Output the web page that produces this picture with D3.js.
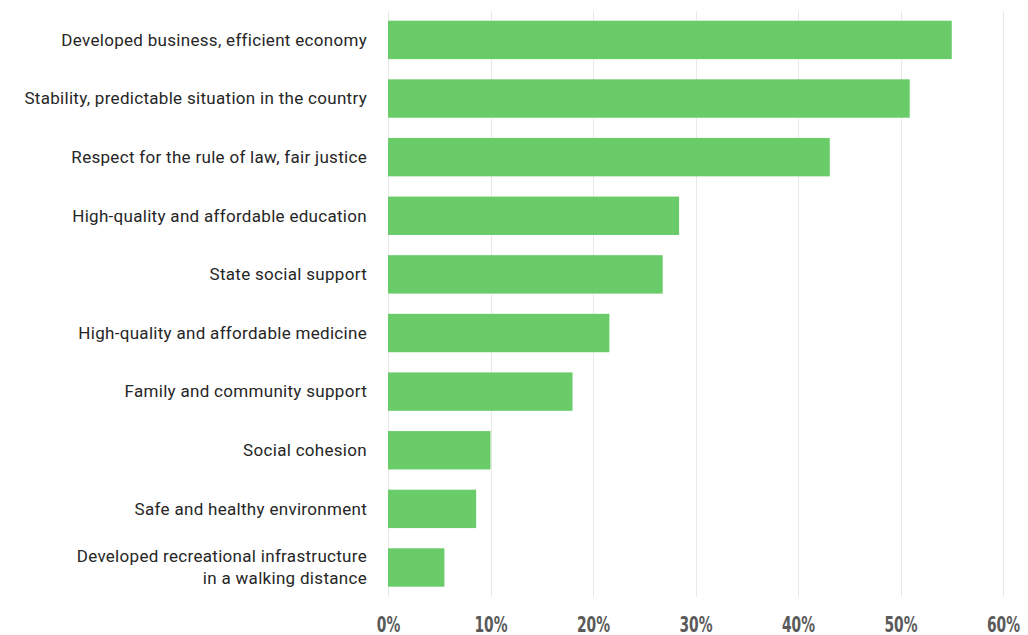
<!DOCTYPE html>
<html>
<head>
<meta charset="utf-8">
<script src="https://cdn.jsdelivr.net/npm/d3@7"></script>
<style>
  html, body { margin: 0; padding: 0; background: #ffffff; }
  svg { display: block; }
</style>
</head>
<body>
<svg id="chart" width="1028" height="635"></svg>
<script>
// Factors named by respondents (share of answers, %)
const categories = [
  ["Developed business, efficient economy"],
  ["Stability, predictable situation in the country"],
  ["Respect for the rule of law, fair justice"],
  ["High-quality and affordable education"],
  ["State social support"],
  ["High-quality and affordable medicine"],
  ["Family and community support"],
  ["Social cohesion"],
  ["Safe and healthy environment"],
  ["Developed recreational infrastructure", "in a walking distance"]
];
const values = [55.0, 50.9, 43.1, 28.4, 26.8, 21.6, 18.0, 10.0, 8.6, 5.5];
const tickValues = [0, 10, 20, 30, 40, 50, 60];
const tickLabels = ["0%", "10%", "20%", "30%", "40%", "50%", "60%"];

const svg = d3.select("#chart");
const keys = categories.map((c, i) => i);

const x = d3.scaleLinear().domain([0, 60]).range([388, 1003]);
const y = d3.scaleBand().domain(keys).range([20.7, 586.7])
  .paddingInner(0.345).paddingOuter(0);

// vertical gridlines
svg.append("g")
  .selectAll("line")
  .data(tickValues)
  .join("line")
  .attr("x1", d => Math.round(x(d)) + 0.5)
  .attr("x2", d => Math.round(x(d)) + 0.5)
  .attr("y1", 11)
  .attr("y2", 597)
  .attr("stroke", "#e9e9e9")
  .attr("stroke-width", 1);

// bars
svg.append("g")
  .selectAll("rect")
  .data(values)
  .join("rect")
  .attr("x", x(0))
  .attr("y", (d, i) => y(i))
  .attr("width", d => x(d) - x(0))
  .attr("height", y.bandwidth())
  .attr("fill", "#69cc69");

// category labels (right-aligned, multi-line where needed)
const lineH = 22;
const labels = svg.append("g")
  .attr("font-family", "Roboto, 'Noto Sans', sans-serif")
  .attr("font-size", 17)
  .attr("letter-spacing", "0.3px")
  .attr("fill", "#262626")
  .attr("text-anchor", "end");

categories.forEach((lines, i) => {
  const cy = y(i) + y.bandwidth() / 2;
  const t = labels.append("text")
    .attr("x", 367)
    .attr("y", cy - (lines.length - 1) * lineH / 2);
  lines.forEach((ln, j) => {
    t.append("tspan")
      .attr("x", 367)
      .attr("dy", j === 0 ? "0.34em" : lineH)
      .text(ln);
  });
});

// x axis labels (condensed bold)
const xAxis = d3.axisBottom(x)
  .tickValues(tickValues)
  .tickFormat((d, i) => tickLabels[i])
  .tickSize(0)
  .tickPadding(0);

const ax = svg.append("g")
  .attr("transform", "translate(0,616)")
  .call(xAxis);
ax.select(".domain").remove();
ax.selectAll("text")
  .attr("dy", null)
  .attr("y", 0)
  .attr("transform", "translate(0,15.5) scale(0.75,1)")
  .attr("font-family", "'DejaVu Sans Condensed', 'DejaVu Sans', sans-serif")
  .attr("font-weight", "bold")
  .attr("font-size", 20.5)
  .attr("fill", "#5a5a5a");
</script>
</body>
</html>
